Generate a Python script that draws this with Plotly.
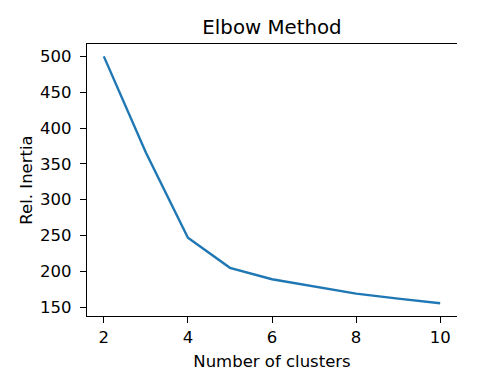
import plotly.graph_objects as go

n_clusters = [2, 3, 4, 5, 6, 7, 8, 9, 10]
rel_inertia = [500, 366, 247, 205, 189, 179, 169, 162, 155.5]
x_ticks = [2, 4, 6, 8, 10]
y_ticks = [150, 200, 250, 300, 350, 400, 450, 500]

FONT = "DejaVu Sans"
FS = 16.5

fig = go.Figure()
fig.add_trace(go.Scatter(x=n_clusters, y=rel_inertia, mode="lines",
                         line=dict(color="#1f77b4", width=2.4), hoverinfo="skip"))

fig.update_layout(
    width=479, height=388,
    margin=dict(l=87, r=22, t=44, b=72, pad=0),
    paper_bgcolor="white", plot_bgcolor="white",
    showlegend=False,
    font=dict(family=FONT, size=FS, color="black"),
    title=dict(text="Elbow Method", x=0.5, xref="paper", xanchor="center",
               y=1 - 34/388, yref="container", yanchor="bottom",
               font=dict(family=FONT, size=19.8, color="black")),
    xaxis=dict(range=[1.6, 10.4], tickvals=x_ticks, ticks="outside", ticklen=6,
               tickwidth=1.3, tickcolor="black", showline=True, linecolor="black",
               linewidth=1.3, mirror=True, showgrid=False, zeroline=False,
               ticklabelstandoff=0, automargin=False,
               title=dict(text="Number of clusters", standoff=9,
                          font=dict(family=FONT, size=FS))),
    yaxis=dict(range=[137.75, 517.25], tickvals=y_ticks, ticks="outside", ticklen=6,
               tickwidth=1.3, tickcolor="black", showline=True, linecolor="black",
               linewidth=1.3, mirror=False, showgrid=False, zeroline=False,
               ticklabelstandoff=5, automargin=False,
               title=dict(text="Rel. Inertia", standoff=3,
                          font=dict(family=FONT, size=FS))),
)

fig.write_html("out.html", post_script="document.body.style.margin='0';",
               config={"displayModeBar": False})
